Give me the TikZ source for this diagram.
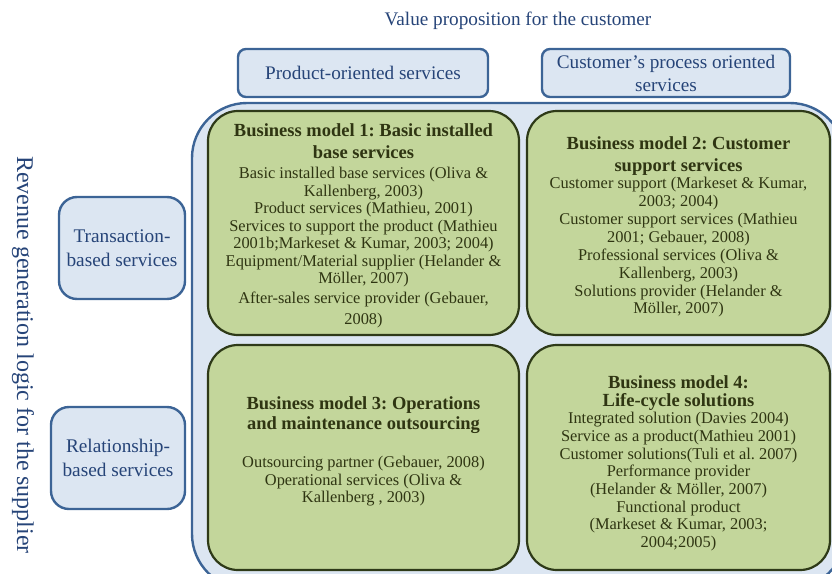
\documentclass[tikz,border=0pt]{standalone}
\usepackage{fontspec}
\setmainfont{Liberation Serif}
\frenchspacing
\definecolor{txtblue}{HTML}{264478}
\definecolor{boxblue}{HTML}{3C6496}
\definecolor{fillblue}{HTML}{DCE6F2}
\definecolor{gfill}{HTML}{C3D69B}
\definecolor{gborder}{HTML}{2E3A18}
\definecolor{gtext}{HTML}{2F3512}
\tikzset{
  bluebox/.style={draw=boxblue, fill=fillblue, line width=2.4pt, rounded corners=8pt,
    text=txtblue, font=\fontsize{19.2}{23}\selectfont, align=center, inner sep=0pt},
  sidebox/.style={bluebox, rounded corners=18pt, font=\fontsize{19.3}{24}\selectfont},
  bigbox/.style={draw=boxblue, fill=fillblue, line width=2.4pt, rounded corners=55pt, inner sep=0pt},
  gbox/.style={draw=gborder, fill=gfill, line width=2.2pt, rounded corners=30pt, inner sep=0pt},
  hd/.style={font=\bfseries\fontsize{18.5}{21.7}\selectfont, text=gtext, align=center, inner sep=0pt, anchor=north},
  bd/.style={font=\fontsize{16.4}{17.5}\selectfont, text=gtext, align=center, inner sep=0pt, anchor=north},
  lbl/.style={text=txtblue, inner sep=0pt}
}
\begin{document}
\begin{tikzpicture}[x=1pt,y=-1pt]
\useasboundingbox (0,0) rectangle (832,573);
\begin{scope}
\clip (0,0) rectangle (832,573);
\node[bigbox, minimum width=653pt, minimum height=486pt] (frame) at (518.5,346) {};
\node[gbox, minimum width=311pt, minimum height=224pt] (bm1) at (363.5,223) {};
\node[gbox, minimum width=303pt, minimum height=224pt] (bm2) at (678.5,223) {};
\node[gbox, minimum width=311pt, minimum height=225pt] (bm3) at (363.5,457.5) {};
\node[gbox, minimum width=303pt, minimum height=225pt] (bm4) at (678.5,457.5) {};
\end{scope}

% title and axis labels
\node[lbl, font=\fontsize{19.2}{23}\selectfont] (title) at (518,21) {Value proposition for the customer};
\node[lbl, font=\fontsize{24}{28}\selectfont, rotate=-90] (vert) at (23,355) {Revenue generation logic for the supplier};

% header boxes
\node[bluebox, minimum width=250pt, minimum height=48pt] (prod) at (363,73) {Product-oriented services};
\node[bluebox, minimum width=248pt, minimum height=48pt] (cust) at (666,73) {Customer’s process oriented\\services};

% side boxes
\node[sidebox, minimum width=126pt, minimum height=102pt] (trans) at (122,248) {Transaction-\\based services};
\node[sidebox, minimum width=134pt, minimum height=102pt] (rel) at (118,458) {Relationship-\\based services};

% business model 1
\node[hd] (h1) at (363.5,123.6) {Business model 1: Basic installed\\base services};
\node[bd] (b1) at (363.5,167.1) {Basic installed base services (Oliva \&\\Kallenberg, 2003)\\Product services (Mathieu, 2001)\\Services to support the product (Mathieu\\2001b;Markeset \& Kumar, 2003; 2004)\\Equipment/Material supplier (Helander \&\\Möller, 2007)\\[2pt]After-sales service provider (Gebauer,\\[4pt]2008)};

% business model 2
\node[hd, font=\bfseries\fontsize{18.5}{22}\selectfont] (h2) at (678.5,136.6) {Business model 2: Customer\\support services};
\node[bd, font=\fontsize{16.4}{17.9}\selectfont] (b2) at (678.5,177.1) {Customer support (Markeset \& Kumar,\\2003; 2004)\\Customer support services (Mathieu\\2001; Gebauer, 2008)\\Professional services (Oliva \&\\Kallenberg, 2003)\\Solutions provider (Helander \&\\Möller, 2007)};

% business model 3
\node[hd, font=\bfseries\fontsize{18.5}{20}\selectfont] (h3) at (363.5,396.6) {Business model 3: Operations\\and maintenance outsourcing};
\node[bd] (b3) at (363.5,456.1) {Outsourcing partner (Gebauer, 2008)\\Operational services (Oliva \&\\Kallenberg , 2003)};

% business model 4
\node[hd, font=\bfseries\fontsize{18.5}{17.5}\selectfont] (h4) at (678.5,375.6) {Business model 4:\\Life-cycle solutions};
\node[bd, font=\fontsize{16.4}{17.7}\selectfont] (b4) at (678.5,412.1) {Integrated solution (Davies 2004)\\Service as a product(Mathieu 2001)\\Customer solutions(Tuli et al. 2007)\\Performance provider\\(Helander \& Möller, 2007)\\Functional product\\(Markeset \& Kumar, 2003;\\2004;2005)};
\end{tikzpicture}
\end{document}
